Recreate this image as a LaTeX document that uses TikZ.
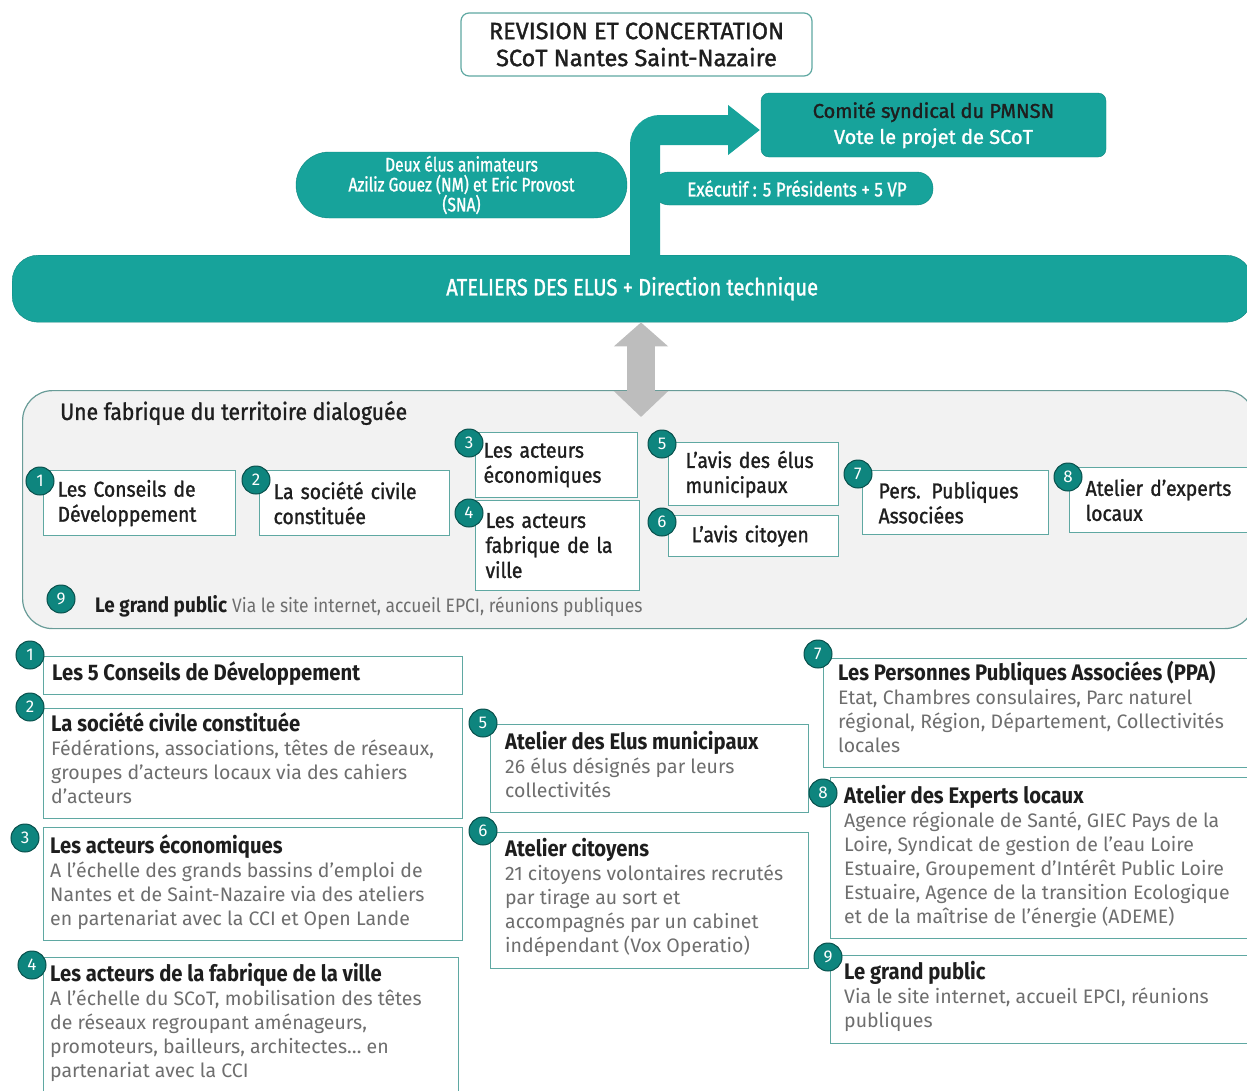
\documentclass[tikz,border=0pt]{standalone}
\usepackage{fontspec}
\setmainfont{Fira Sans}
\newfontfamily\headfont[FakeStretch=0.9]{Fira Sans}
\newfontfamily\medfont[FakeBold=1.4]{Fira Sans}
\newfontfamily\medcond[FakeStretch=0.9, FakeBold=1.2]{Fira Sans}
\newfontfamily\pillfont[FakeStretch=0.85, FakeBold=1.3]{Fira Sans}
\newfontfamily\narrowfont[FakeStretch=0.8, FakeBold=1.2]{Fira Sans}
\usetikzlibrary{arrows.meta, positioning}
\definecolor{scotteal}{HTML}{17A39B}
\definecolor{scotdark}{HTML}{0E857E}
\definecolor{scotline}{HTML}{5FA8A2}
\definecolor{panelgray}{HTML}{F2F2F2}
\definecolor{arrowgray}{HTML}{BDBDBD}
\definecolor{bodygray}{HTML}{6E6E6E}
\definecolor{inkdark}{HTML}{1E1E1E}
\newcommand{\cardhead}[1]{{\color{inkdark}\headfont\bfseries\fontsize{22.5}{24}\selectfont #1}}

\begin{document}
\begin{tikzpicture}[x=1pt, y=-1pt, font=\fontsize{19.5}{24}\selectfont, text=inkdark,
  pill/.style={draw=scotdark, fill=scotteal, text=white, align=center, inner sep=0pt,
               font=\pillfont\fontsize{20}{20}\selectfont},
  sbox/.style={draw=scotline, fill=white, line width=1.2pt, anchor=north west, align=left,
               inner xsep=14pt, inner ysep=0pt, font=\medcond\fontsize{21.5}{25}\selectfont},
  card/.style={draw=scotline, fill=white, line width=1.4pt, anchor=north west, inner sep=0pt},
  cardtxt/.style={anchor=north west, align=left, inner sep=0pt, text=bodygray},
  num/.style={circle, fill=scotdark, draw=scotdark!60!black, line width=1pt, text=white,
              minimum size=28pt, inner sep=0pt, font=\fontsize{17}{17}\selectfont},
  bigarr/.style={scotteal, line width=30pt, rounded corners=15pt,
                 -{Triangle[length=32pt, width=48pt]}},
  grayarr/.style={arrowgray, line width=28pt,
                  {Triangle[length=24pt, width=53pt]}-{Triangle[length=26pt, width=53pt]}}
]
\useasboundingbox (0,0) rectangle (1247,1090);

% top
\node[draw=scotline, fill=white, line width=1.2pt, rounded corners=8pt, minimum width=351pt,
      minimum height=63pt, align=center, font=\medfont\fontsize{23.5}{27}\selectfont] (title) at (636.5,44.5)
  {REVISION ET CONCERTATION\\SCoT Nantes Saint-Nazaire};

\node[pill, rounded corners=33pt, minimum width=331pt, minimum height=66pt,
      font=\narrowfont\fontsize{19.5}{20}\selectfont] (duo) at (461.5,185)
  {Deux élus animateurs\\Aziliz Gouez (NM) et Eric Provost\\(SNA)};
\node[pill, rounded corners=16pt, minimum width=280pt, minimum height=33pt] (exec) at (793,188.5)
  {\hspace*{8pt}Exécutif : 5 Présidents + 5 VP};

\node[draw=scotdark, fill=scotteal, rounded corners=26pt, anchor=north west, minimum width=1240pt,
      minimum height=67pt, text=white, font=\pillfont\fontsize{23.7}{26}\selectfont] (bar) at (12,255)
  {ATELIERS DES ELUS + Direction technique};

\coordinate (shaft) at (645,0);
\coordinate (tip) at (760,130);
\draw[bigarr] ([yshift=-1pt]bar.north -| shaft) |- (tip);

\node[draw=scotdark, fill=scotteal, rounded corners=8pt, minimum width=345pt, minimum height=64pt,
      align=center, font=\medfont\fontsize{20}{26}\selectfont] (comite) at (933.5,125)
  {Comité syndical du PMNSN\\\textcolor{white}{Vote le projet de SCoT}};

% panel
\node[draw=scotline!70!gray, fill=panelgray, line width=1.2pt, rounded corners=30pt,
      anchor=north west, minimum width=1232pt, minimum height=238pt] (fab) at (22,390) {};
\node[anchor=west, inner sep=0pt, font=\medcond\fontsize{23.5}{25}\selectfont] (fabt) at (60,413)
  {Une fabrique du territoire dialoguée};

\coordinate (gx) at (641,0);
\coordinate (gtip) at (641,417);
\draw[grayarr] (bar.south -| gx) -- (gtip);

\node[sbox, text width=164pt, minimum height=65pt] (s1) at (43,470) {Les Conseils de\\Développement};
\node[sbox, text width=162pt, minimum height=65pt] (s2) at (259,470) {La société civile\\constituée};
\node[sbox, inner xsep=8pt, text width=146pt, minimum height=65pt] (s3) at (475,432) {Les acteurs\\économiques};
\node[sbox, inner xsep=10pt, text width=144pt, minimum height=90pt] (s4) at (475,500) {Les acteurs\\fabrique de la\\ville};
\node[sbox, inner xsep=17pt, text width=136pt, minimum height=63pt] (s5) at (668,442) {L’avis des élus\\municipaux};
\node[sbox, inner xsep=23pt, text width=124pt, minimum height=41pt] (s6) at (668,515) {L’avis citoyen};
\node[sbox, inner xsep=16pt, text width=154pt, minimum height=64pt] (s7) at (862,470) {Pers. Publiques\\Associées};
\node[sbox, inner xsep=16pt, text width=160pt, minimum height=65pt] (s8) at (1069,467) {Atelier d’experts\\locaux};

\node[anchor=west, inner sep=0pt, font=\headfont\fontsize{21}{22}\selectfont] (gp) at (95,606)
  {\textbf{Le grand public} \textcolor{bodygray}{\fontsize{19.4}{20}\selectfont Via le site internet, accueil EPCI, réunions publiques}};

\foreach \k/\px/\py in {1/40/481, 2/256/480, 3/469/443, 4/469/513, 5/662/444,
                        6/662/522, 7/858/474, 8/1068/477, 9/61/599}
  \node[num] (pn\k) at (\px,\py) {\k};

% detail cards
\node[card, minimum width=419pt, minimum height=38pt] (c1) at (43,656) {};
\node[card, minimum width=419pt, minimum height=110pt] (c2) at (43,708) {};
\node[card, minimum width=419pt, minimum height=113pt] (c3) at (43,827) {};
\node[card, minimum width=415pt, minimum height=150pt] (c4) at (43,957) {};
\node[card, minimum width=318pt, minimum height=88pt] (c5) at (490,724) {};
\node[card, minimum width=318pt, minimum height=136pt] (c6) at (490,832) {};
\node[card, minimum width=440pt, minimum height=109pt] (c7) at (823,658) {};
\node[card, minimum width=430pt, minimum height=161pt] (c8) at (830,777) {};
\node[card, minimum width=430pt, minimum height=88pt] (c9) at (830,955) {};

\node[cardtxt] (t1) at ([xshift=9pt, yshift=-6pt]c1.north west)
  {\cardhead{Les 5 Conseils de Développement}};
\node[cardtxt] (t2) at ([xshift=8pt, yshift=-4pt]c2.north west)
  {\cardhead{La société civile constituée}\\
   Fédérations, associations, têtes de réseaux,\\groupes d’acteurs locaux via des cahiers\\d’acteurs};
\node[cardtxt] (t3) at ([xshift=7pt, yshift=-7pt]c3.north west)
  {\cardhead{Les acteurs économiques}\\
   A l’échelle des grands bassins d’emploi de\\Nantes et de Saint-Nazaire via des ateliers\\en partenariat avec la CCI et Open Lande};
\node[cardtxt] (t4) at ([xshift=7pt, yshift=-6pt]c4.north west)
  {\cardhead{Les acteurs de la fabrique de la ville}\\
   A l’échelle du SCoT, mobilisation des têtes\\de réseaux regroupant aménageurs,\\promoteurs, bailleurs, architectes… en\\partenariat avec la CCI};
\node[cardtxt] (t5) at ([xshift=15pt, yshift=-7pt]c5.north west)
  {\cardhead{Atelier des Elus municipaux}\\
   26 élus désignés par leurs\\collectivités};
\node[cardtxt] (t6) at ([xshift=15pt, yshift=-6pt]c6.north west)
  {\cardhead{Atelier citoyens}\\
   21 citoyens volontaires recrutés\\par tirage au sort et\\accompagnés par un cabinet\\indépendant (Vox Operatio)};
\node[cardtxt] (t7) at ([xshift=15pt, yshift=-3pt]c7.north west)
  {\cardhead{Les Personnes Publiques Associées (PPA)}\\
   Etat, Chambres consulaires, Parc naturel\\régional, Région, Département, Collectivités\\locales};
\node[cardtxt] (t8) at ([xshift=14pt, yshift=-8pt]c8.north west)
  {\cardhead{Atelier des Experts locaux}\\
   Agence régionale de Santé, GIEC Pays de la\\Loire, Syndicat de gestion de l’eau Loire\\Estuaire, Groupement d’Intérêt Public Loire\\Estuaire, Agence de la transition Ecologique\\et de la maîtrise de l’énergie (ADEME)};
\node[cardtxt] (t9) at ([xshift=14pt, yshift=-6pt]c9.north west)
  {\cardhead{Le grand public}\\
   Via le site internet, accueil EPCI, réunions\\publiques};

\foreach \k/\px/\py in {1/30/655, 2/30/707, 3/25/838, 4/32/965, 5/483/723,
                        6/483/831, 7/818/654, 8/823/793, 9/828/957}
  \node[num] (qn\k) at (\px,\py) {\k};
\end{tikzpicture}
\end{document}
